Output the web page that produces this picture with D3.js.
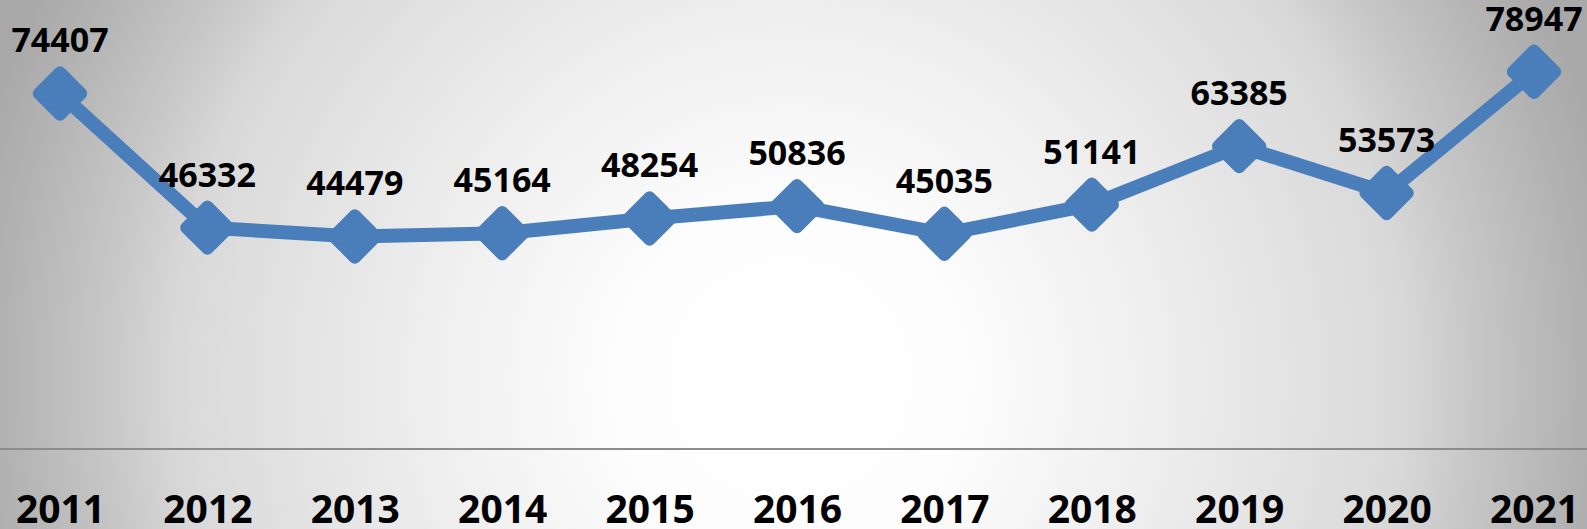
<!DOCTYPE html>
<html>
<head>
<meta charset="utf-8">
<script src="https://cdn.jsdelivr.net/npm/d3@7"></script>
<style>
  html, body { margin: 0; padding: 0; overflow: hidden; }
  .value_label { font-family: "Open Sans", sans-serif; font-weight: 700; font-size: 34px; fill: #000; }
  .x_axis text { font-family: "Open Sans", sans-serif; font-weight: 700; font-size: 39px; fill: #000; }
  .baseline { stroke: #8c8c8c; stroke-width: 2; }
  .line_chart { fill: none; stroke: #4a7ebb; stroke-width: 14; stroke-linejoin: round; }
  .marker { fill: #4a7ebb; stroke: #4a7ebb; stroke-width: 12; stroke-linejoin: round; }
</style>
</head>
<body>
<div id="linechart"></div>
<script>
// data
var years = ["2011", "2012", "2013", "2014", "2015", "2016", "2017", "2018", "2019", "2020", "2021"];
var values = [74407, 46332, 44479, 45164, 48254, 50836, 45035, 51141, 63385, 53573, 78947];
var yDomain = [0, 90000];

var width = 1587, height = 529;

var data = years.map(function(d, i) { return { year: d, value: values[i] }; });

var svg = d3.select("#linechart")
            .append("svg")
            .attr("width", width)
            .attr("height", height);

//background: radial grey gradient, white in the middle
var grad = svg.append("defs").append("radialGradient")
              .attr("id", "bg")
              .attr("gradientUnits", "userSpaceOnUse")
              .attr("cx", 790).attr("cy", 380).attr("r", 850);
[[0, "#ffffff"], [0.2, "#fdfdfd"], [0.42, "#efefef"], [0.6, "#e2e2e2"],
 [0.72, "#d9d9d9"], [0.8, "#c8c8c8"], [0.94, "#b0b0b0"], [1, "#a8a8a8"]]
  .forEach(function(s) {
      grad.append("stop").attr("offset", s[0]).attr("stop-color", s[1]);
  });

svg.append("rect")
   .attr("width", width)
   .attr("height", height)
   .attr("fill", "url(#bg)");

// scales
var x = d3.scalePoint()
          .domain(years)
          .range([60, 1534]);

var y = d3.scaleLinear()
          .domain(yDomain)
          .range([449, 19]);

// x axis (labels only), the grey line is drawn across the whole width
var xAxis = svg.append("g")
               .attr("class", "x_axis")
               .attr("transform", "translate(0," + y(0) + ")")
               .call(d3.axisBottom(x).tickSize(0).tickPadding(0));
xAxis.select(".domain").remove();
xAxis.selectAll("text").attr("dy", null).attr("y", 74);

svg.append("line")
   .attr("class", "baseline")
   .attr("x1", 0).attr("x2", width)
   .attr("y1", y(0)).attr("y2", y(0));

var valueline = d3.line()
                  .x(function(d) { return x(d.year); })
                  .y(function(d) { return y(d.value); });

svg.append("g")
   .attr("class", "line_chart")
   .selectAll("path")
   .data([data])
   .enter()
   .append("path")
   .attr("d", valueline);

// diamond markers (rotated squares with rounded corners)
svg.append("g")
   .selectAll("rect")
   .data(data)
   .enter()
   .append("rect")
   .attr("class", "marker")
   .attr("x", -15).attr("y", -15)
   .attr("width", 30).attr("height", 30)
   .attr("transform", function(d) { return "translate(" + x(d.year) + "," + y(d.value) + ") rotate(45)"; });

svg.append("g")
   .selectAll("text")
   .data(data)
   .enter()
   .append("text")
   .attr("class", "value_label")
   .attr("text-anchor", "middle")
   .attr("x", function(d) { return x(d.year); })
   .attr("y", function(d) { return y(d.value) - 41; })
   .text(function(d) { return d.value; });
</script>
</body>
</html>
